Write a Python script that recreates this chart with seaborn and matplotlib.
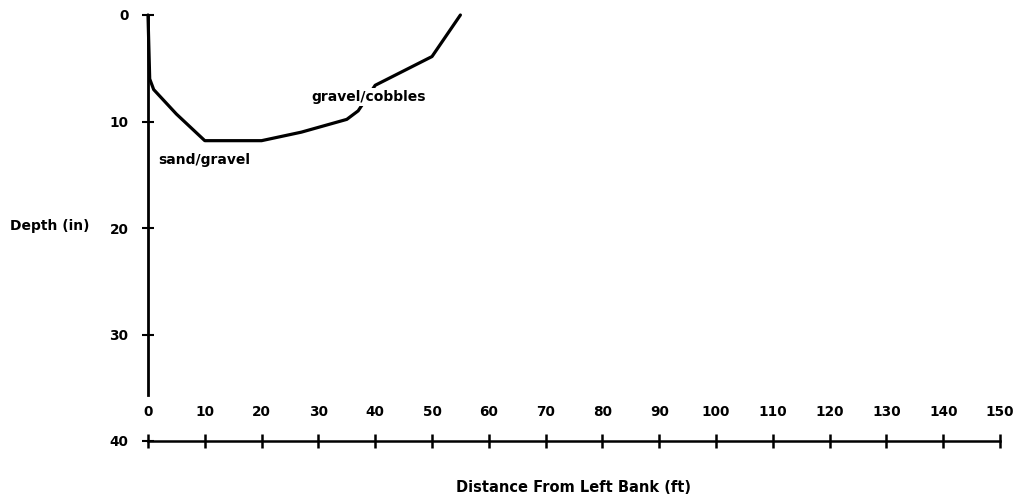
import numpy as np
import pandas as pd
import matplotlib
matplotlib.use("Agg")
import matplotlib.pyplot as plt
import seaborn as sns

# cross-section profile
distance_ft = [0, 0.3, 1, 5, 10, 20, 27, 35, 37, 40, 50, 55]
depth_in = [0, 6, 7, 9.3, 11.8, 11.8, 11.0, 9.8, 9.0, 6.6, 3.9, 0]
x_ticks = list(range(0, 151, 10))
y_ticks = [0, 10, 20, 30, 40]

df = pd.DataFrame({"distance": distance_ft, "depth": depth_in})

sns.set_style("white")
plt.rcParams["font.family"] = ["DejaVu Sans"]
plt.rcParams["text.color"] = "black"

fig = plt.figure(figsize=(10.26, 5.0), dpi=100)
ax = fig.add_axes([148 / 1026, 59 / 500, 852 / 1026, 426 / 500])

sns.lineplot(data=df, x="distance", y="depth", color="black", linewidth=2.3,
             sort=False, ax=ax, clip_on=False)

ax.set_xlim(0, 150)
ax.set_ylim(40, 0)

for s in ["top", "right"]:
    ax.spines[s].set_visible(False)
for s in ["left", "bottom"]:
    ax.spines[s].set_color("black")
ax.spines["left"].set_bounds(0, 35.7)
ax.spines["left"].set_linewidth(2.0)
ax.spines["bottom"].set_linewidth(1.8)

ax.set_xticks(x_ticks)
ax.set_yticks(y_ticks)
ax.tick_params(axis="x", bottom=True, direction="inout", length=10, width=1.8,
               pad=-31, labelsize=9.8, colors="black")
ax.tick_params(axis="y", left=True, direction="inout", length=8, width=1.5,
               pad=10, labelsize=9.8, colors="black")
for lab in ax.get_xticklabels() + ax.get_yticklabels():
    lab.set_fontweight("bold")

ax.set_xlabel("Distance From Left Bank (ft)", fontsize=10.5, fontweight="bold",
              labelpad=23, color="black")
ax.set_ylabel("")
fig.text(50 / 1026, 1 - 226 / 500, "Depth (in)", fontsize=10, fontweight="bold",
         ha="center", va="center")

ax.text(1.8, 13.6, "sand/gravel", fontsize=10, fontweight="bold",
        ha="left", va="center")
ax.text(28.8, 7.7, "gravel/cobbles", fontsize=10, fontweight="bold",
        ha="left", va="center",
        bbox=dict(facecolor="white", edgecolor="none", pad=1.5))

fig.savefig("out.png", dpi=100, facecolor="white")
